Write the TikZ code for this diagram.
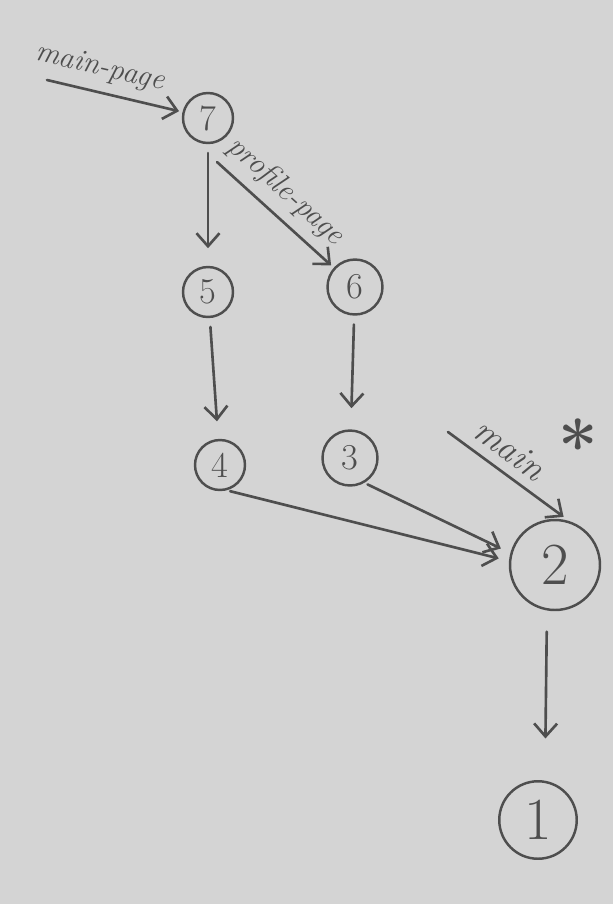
\documentclass[tikz,border=0pt]{standalone}
\usetikzlibrary{positioning, arrows.meta}
\definecolor{board}{RGB}{212,212,212}
\definecolor{marker}{RGB}{78,78,78}

\begin{document}
\begin{tikzpicture}[x=0.02cm, y=-0.02cm,
    commit/.style={circle, draw=marker, line width=1.4pt, minimum size=1cm,
        inner sep=0pt, text=marker, font=\huge},
    big commit/.style={commit, minimum size=1.8cm, font=\fontsize{34}{34}\selectfont},
    link/.style={draw=marker, line width=1.5pt, line cap=round,
        -{Straight Barb[length=2.6mm, width=4.6mm]}},
    ref/.style={text=marker, font=\LARGE\itshape, above=2pt}]

    % whiteboard
    \fill[board] (0,0) rectangle (613,904);
    \useasboundingbox (0,0) rectangle (613,904);

    % commits
    \node[commit] (c7) at (208,118) {7};
    \node[commit] (c5) at (208,292) {5};
    \node[commit, minimum size=1.1cm] (c6) at (355,287) {6};
    \node[commit] (c4) at (220,465) {4};
    \node[commit, minimum size=1.1cm] (c3) at (350,458) {3};
    \node[big commit] (c2) at (555,565) {2};
    \node[big commit, minimum size=1.55cm] (c1) at (538,820) {1};

    % parents
    \draw[link, shorten <=5pt, shorten >=10pt] (c7) -- (c5);
    \draw[link, shorten <=5pt, shorten >=10pt] (c5) -- (c4);
    \draw[link, shorten <=5pt, shorten >=12pt] (c6) -- (c3);
    \draw[link, shorten <=2pt, shorten >=6pt] (c4.-75) -- (c2.175);
    \draw[link, shorten <=2pt, shorten >=6pt] (c3.-60) -- (c2.165);
    \draw[link, shorten <=12pt, shorten >=24pt] (c2.-100) -- (c1.80);

    % branches
    \coordinate (mp) at (47,80);
    \draw[link, shorten >=2pt] (mp) -- node[ref, sloped, pos=0.35] {main-page} (c7);
    \coordinate (pp) at (217,162);
    \draw[link, shorten >=2pt] (pp) -- node[ref, sloped, pos=0.45] {profile-page} (c6);
    \coordinate (mn) at (448,432);
    \draw[link, shorten >=4pt] (mn) -- node[ref, font=\huge\itshape, sloped, pos=0.4] {main} (c2.72);
    \node[text=marker, font=\fontsize{40}{40}\selectfont\bfseries] (star) at (578,445) {*};

\end{tikzpicture}
\end{document}
